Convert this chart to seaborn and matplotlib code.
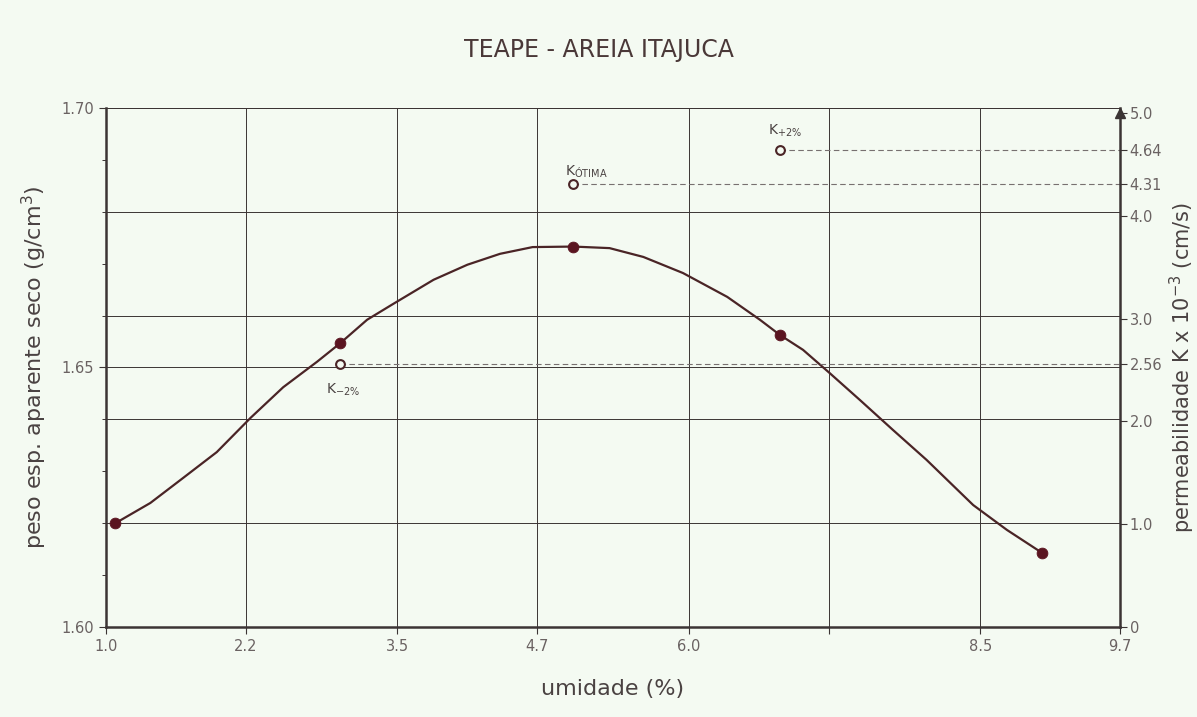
import numpy as np
import pandas as pd
import matplotlib
matplotlib.use("Agg")
import matplotlib.pyplot as plt
import seaborn as sns

# measured points (umidade %, peso esp. aparente seco g/cm3)
umidade = [1.08, 3.01, 5.01, 6.78, 9.03]
peso = [1.620, 1.6547, 1.6732, 1.6563, 1.6143]

# hand-drawn curve
curva_x = [1.08, 1.38, 1.66, 1.95, 2.24, 2.52, 2.81, 3.01, 3.24, 3.46, 3.81, 4.10, 4.38, 4.66,
           5.01, 5.32, 5.61, 5.95, 6.33, 6.61, 6.78, 6.98, 7.21, 7.47, 7.75, 8.04, 8.44, 8.73, 9.03]
curva_y = [1.6200, 1.6239, 1.6287, 1.6337, 1.6403, 1.6462, 1.6511, 1.6547, 1.6592, 1.6622,
           1.6669, 1.6698, 1.6719, 1.6732, 1.6733, 1.6730, 1.6713, 1.6682, 1.6636, 1.6592,
           1.6563, 1.6534, 1.6489, 1.6437, 1.6380, 1.6322, 1.6235, 1.6187, 1.6143]

# permeability points (right axis, K x 10^-3 cm/s)
k_x = [3.01, 5.01, 6.78]
k_vals = [2.56, 4.31, 4.64]
k_labels = ["K$_{-2\\%}$", "K$_{\\mathrm{ÓTIMA}}$", "K$_{+2\\%}$"]
k_offsets = [(2, -19), (9, 9), (4, 14)]

x_ticks = [1.0, 2.2, 3.5, 4.7, 6.0, 7.2, 8.5, 9.7]
x_ticklabels = ["1.0", "2.2", "3.5", "4.7", "6.0", "", "8.5", "9.7"]
y_grid = [1.60, 1.62, 1.64, 1.65, 1.66, 1.68, 1.70]
k_ticks = [0, 1.0, 2.0, 2.56, 3.0, 4.0, 4.31, 4.64, 5.0]
k_ticklabels = ["0", "1.0", "2.0", "2.56", "3.0", "4.0", "4.31", "4.64", "5.0"]

bg = "#f4faf2"
ink = "#3b3434"
txt = "#4a4242"
red = "#5a1420"

sns.set_theme(style="white")
plt.rcParams["font.family"] = ["DejaVu Sans"]

fig = plt.figure(figsize=(11.97, 7.17), dpi=100, facecolor=bg)
ax = fig.add_axes([0.0886, 0.1255, 0.8471, 0.7239])
ax.set_facecolor(bg)

ax.set_xlim(1.0, 9.7)
ax.set_ylim(1.60, 1.70)

# grid
for xv in x_ticks[1:-1]:
    ax.axvline(xv, color=ink, lw=0.7, zorder=1)
for yv in y_grid[1:]:
    ax.axhline(yv, color=ink, lw=0.7, zorder=1)

df = pd.DataFrame({"x": curva_x, "y": curva_y})
sns.lineplot(data=df, x="x", y="y", ax=ax, color="#4a2426", lw=1.6, sort=False, zorder=3)
pts = pd.DataFrame({"x": umidade, "y": peso})
sns.scatterplot(data=pts, x="x", y="y", ax=ax, color=red, s=60, edgecolor=red, zorder=4)

ax.set_xticks(x_ticks)
ax.set_xticklabels(x_ticklabels)
ax.set_yticks([1.60, 1.65, 1.70])
ax.set_yticklabels(["1.60", "1.65", "1.70"])
ax.set_yticks(np.arange(1.60, 1.7001, 0.01), minor=True)
ax.tick_params(axis="both", which="major", direction="out", length=5, width=0.8,
               colors=ink, labelsize=10.5, labelcolor="#6a6262", left=True, bottom=True)
ax.tick_params(axis="y", which="minor", direction="out", length=3, width=0.7, colors=ink, left=True)

for side in ["left", "bottom"]:
    ax.spines[side].set_color(ink)
    ax.spines[side].set_linewidth(1.8)
ax.spines["top"].set_color(ink)
ax.spines["top"].set_linewidth(0.7)
ax.spines["right"].set_visible(False)

ax.set_xlabel("umidade (%)", fontsize=16, color=txt, labelpad=18)
ax.set_ylabel("peso esp. aparente seco (g/cm$^3$)", fontsize=16, color=txt, labelpad=9)

# right axis: permeability
ax2 = ax.twinx()
ax2.set_ylim(0, 5.05)
ax2.spines["right"].set_color(ink)
ax2.spines["right"].set_linewidth(1.8)
for side in ["left", "top", "bottom"]:
    ax2.spines[side].set_visible(False)
ax2.grid(False)
ax2.set_yticks(k_ticks)
ax2.set_yticklabels(k_ticklabels)
ax2.tick_params(axis="y", direction="out", length=5, width=0.8, colors=ink,
                labelsize=10.5, labelcolor="#6a6262", right=True, pad=2)
ax2.set_ylabel("permeabilidade K x 10$^{-3}$ (cm/s)", fontsize=15, color=txt, labelpad=4)
ax2.plot(1, 5.0, marker="^", color=ink, markersize=7, transform=ax2.get_yaxis_transform(),
         clip_on=False)

for xv, kv in zip(k_x, k_vals):
    ax2.hlines(kv, xv, 9.7, colors="#777070", linestyles=(0, (5, 3)), lw=0.8, zorder=2)
kdf = pd.DataFrame({"x": k_x, "k": k_vals})
sns.scatterplot(data=kdf, x="x", y="k", ax=ax2, facecolor=bg, edgecolor="#4a2426",
                linewidth=1.5, s=40, zorder=5)
ax2.set_xlabel("")
for xv, kv, lab, off in zip(k_x, k_vals, k_labels, k_offsets):
    ax2.annotate(lab, (xv, kv), xytext=off, textcoords="offset points",
                 ha="center", va="center", fontsize=10, color=txt)

fig.text(0.5, 0.93, "TEAPE - AREIA ITAJUCA", ha="center", va="center",
         fontsize=17, color="#4a3838")

fig.savefig("out.png", dpi=100, facecolor=bg)
